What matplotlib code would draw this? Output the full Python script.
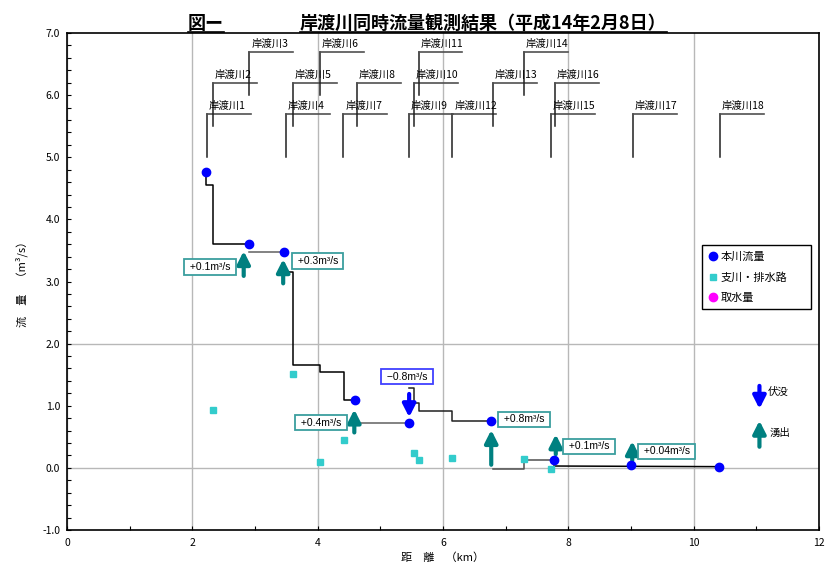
import matplotlib
matplotlib.use("Agg")
import matplotlib.pyplot as plt
from matplotlib.lines import Line2D
from matplotlib.ticker import MultipleLocator, FormatStrFormatter

plt.rcParams["font.family"] = ["Noto Sans CJK JP", "DejaVu Sans"]
plt.rcParams["axes.unicode_minus"] = False

# 本川流量 (main river)
main_x = [2.22, 2.90, 3.47, 4.60, 5.45, 6.77, 7.77, 9.00, 10.40]
main_q = [4.77, 3.60, 3.47, 1.10, 0.73, 0.75, 0.12, 0.05, 0.02]

# 支川・排水路 (tributaries / drains)
trib_x = [2.33, 3.61, 4.04, 4.42, 5.54, 5.61, 6.15, 7.29, 7.72]
trib_q = [0.93, 1.51, 0.10, 0.45, 0.24, 0.13, 0.16, 0.14, -0.01]

# estimated flow step lines between stations
seg_x = [
    [2.22, 2.22, 2.33, 2.33, 2.90],
    [2.90, 3.47],
    [3.47, 3.61, 3.61, 4.04, 4.04, 4.42, 4.42, 4.60],
    [4.60, 5.45],
    [5.46, 5.54, 5.54, 5.61, 5.61, 6.15, 6.15, 6.77],
    [6.80, 7.29, 7.29, 7.77],
    [7.77, 10.40],
]
seg_q = [
    [4.77, 4.55, 4.55, 3.60, 3.60],
    [3.47, 3.47],
    [3.15, 3.15, 1.65, 1.65, 1.55, 1.55, 1.10, 1.10],
    [0.73, 0.73],
    [1.29, 1.29, 1.05, 1.05, 0.92, 0.92, 0.75, 0.75],
    [-0.02, -0.02, 0.12, 0.12],
    [0.03, 0.02],
]
seg_color = ["#000000", "#606060", "#000000", "#606060", "#202020", "#505050", "#000000"]

# 湧出 arrows (gain) and 伏没 arrow (loss)
gain_x = [2.82, 3.45, 4.585, 6.77, 7.80, 9.02]
gain_from = [3.09, 2.97, 0.57, 0.05, 0.22, 0.12]
gain_to = [3.49, 3.36, 0.94, 0.61, 0.54, 0.43]
loss_x = [5.46]
loss_from = [1.19]
loss_to = [0.815]

# difference labels
diff_text = ["+0.1m³/s", "+0.3m³/s", "+0.4m³/s", "−0.8m³/s", "+0.8m³/s", "+0.1m³/s", "+0.04m³/s"]
diff_x = [2.28, 4.00, 4.05, 5.43, 7.29, 8.33, 9.57]
diff_q = [3.235, 3.33, 0.73, 1.47, 0.78, 0.35, 0.27]

# station leaders
sta_names = ["岸渡川%d" % i for i in range(1, 19)]
sta_x = [2.23, 2.33, 2.91, 3.49, 3.61, 4.04, 4.41, 4.63, 5.46,
         5.54, 5.61, 6.15, 6.80, 7.29, 7.72, 7.79, 9.03, 10.42]
sta_level = [1, 2, 3, 1, 2, 3, 1, 2, 1, 2, 3, 1, 2, 3, 1, 2, 1, 1]

grid_q = [0.0, 2.0]

fig = plt.figure(figsize=(8.27, 5.85), dpi=100)
ax = fig.add_axes([0.081, 0.094, 0.9093, 0.8496])
ax.set_xlim(0, 12)
ax.set_ylim(-1, 7)

ax.xaxis.set_major_locator(MultipleLocator(2))
ax.xaxis.set_minor_locator(MultipleLocator(1))
ax.yaxis.set_major_locator(MultipleLocator(1))
ax.yaxis.set_minor_locator(MultipleLocator(0.2))
ax.yaxis.set_major_formatter(FormatStrFormatter("%.1f"))
ax.tick_params(which="both", direction="in", length=3, width=0.8, labelsize=7.5)
ax.tick_params(axis="x", pad=6)
ax.tick_params(axis="y", pad=5)
for sp in ax.spines.values():
    sp.set_linewidth(1.2)

ax.xaxis.grid(True, color="#b8b8b8", lw=1)
for g in grid_q:
    ax.axhline(g, color="#b8b8b8", lw=1, zorder=0)
ax.set_axisbelow(True)

# station leader lines
for name, x, lvl in zip(sta_names, sta_x, sta_level):
    top = 5.7 + 0.5 * (lvl - 1)
    bot = 5.0 + 0.5 * (lvl - 1)
    ax.plot([x, x], [bot, top], color="#202020", lw=1.1, zorder=2)
    ax.plot([x, x + 0.70], [top, top], color="#505050", lw=1.2, zorder=2)
    ax.text(x + 0.03, top + 0.05, name, fontsize=7.5, ha="left", va="bottom")

for xs, qs, c in zip(seg_x, seg_q, seg_color):
    ax.plot(xs, qs, color=c, lw=1.1, zorder=3)

ax.plot(trib_x, trib_q, ls="none", marker="s", ms=4.5, color="#33CCCC", zorder=4)
ax.plot(main_x, main_q, ls="none", marker="o", ms=6, color="#0000FF", zorder=5)


def draw_arrow(x, y0, y1, color):
    ax.annotate("", xy=(x, y1), xytext=(x, y0),
                arrowprops=dict(arrowstyle="-|>,head_length=0.75,head_width=0.38",
                                color=color, lw=3, shrinkA=0, shrinkB=0,
                                mutation_scale=10), zorder=4)


for x, a, b in zip(gain_x, gain_from, gain_to):
    draw_arrow(x, a, b, "#008080")
for x, a, b in zip(loss_x, loss_from, loss_to):
    draw_arrow(x, a, b, "#0000FF")

for txt, x, q in zip(diff_text, diff_x, diff_q):
    ec = "#4040FF" if txt.startswith("−") else "#3A9E9E"
    ax.text(x, q, " " + txt + " ", fontsize=7.5, family=["Liberation Sans", "DejaVu Sans"],
            ha="center", va="center", zorder=6,
            bbox=dict(boxstyle="square,pad=0.25", fc="white", ec=ec, lw=1.3))

# arrow legend
draw_arrow(11.05, 1.32, 0.95, "#0000FF")
draw_arrow(11.05, 0.34, 0.76, "#008080")
ax.text(11.18, 1.22, "伏没", fontsize=7.5, ha="left", va="center")
ax.text(11.21, 0.57, "湧出", fontsize=7.5, ha="left", va="center")

handles = [
    Line2D([], [], ls="none", marker="o", ms=6, color="#0000FF"),
    Line2D([], [], ls="none", marker="s", ms=4.5, color="#33CCCC"),
    Line2D([], [], ls="none", marker="o", ms=6, color="#FF00FF"),
]
leg = ax.legend(handles, ["本川流量", "支川・排水路", "取水量"], loc="upper left",
                bbox_to_anchor=(0.844, 0.441, 0.145, 0.132), mode="expand",
                fontsize=8, fancybox=False, edgecolor="black", framealpha=1,
                handlelength=0.8, handletextpad=0.3, labelspacing=0.9,
                borderpad=0.6, borderaxespad=0)
leg.get_frame().set_linewidth(1.0)

ax.set_xlabel("距　離　（km）", fontsize=8, labelpad=3)
ax.set_ylabel("流　量　（m³/s）", fontsize=8, labelpad=10)

t1 = fig.text(188 / 827, 0.9504, "図ー", fontsize=13, fontweight="bold", va="baseline")
t2 = fig.text(300 / 827, 0.9504, "岸渡川同時流量観測結果（平成14年2月8日）",
              fontsize=13, fontweight="bold", va="baseline")

fig.canvas.draw()
renderer = fig.canvas.get_renderer()
for t in (t1, t2):
    bb = t.get_window_extent(renderer).transformed(fig.transFigure.inverted())
    fig.add_artist(Line2D([bb.x0, bb.x1], [0.9453, 0.9453], transform=fig.transFigure,
                          color="black", lw=1.2))

fig.savefig("out.png", dpi=100)
